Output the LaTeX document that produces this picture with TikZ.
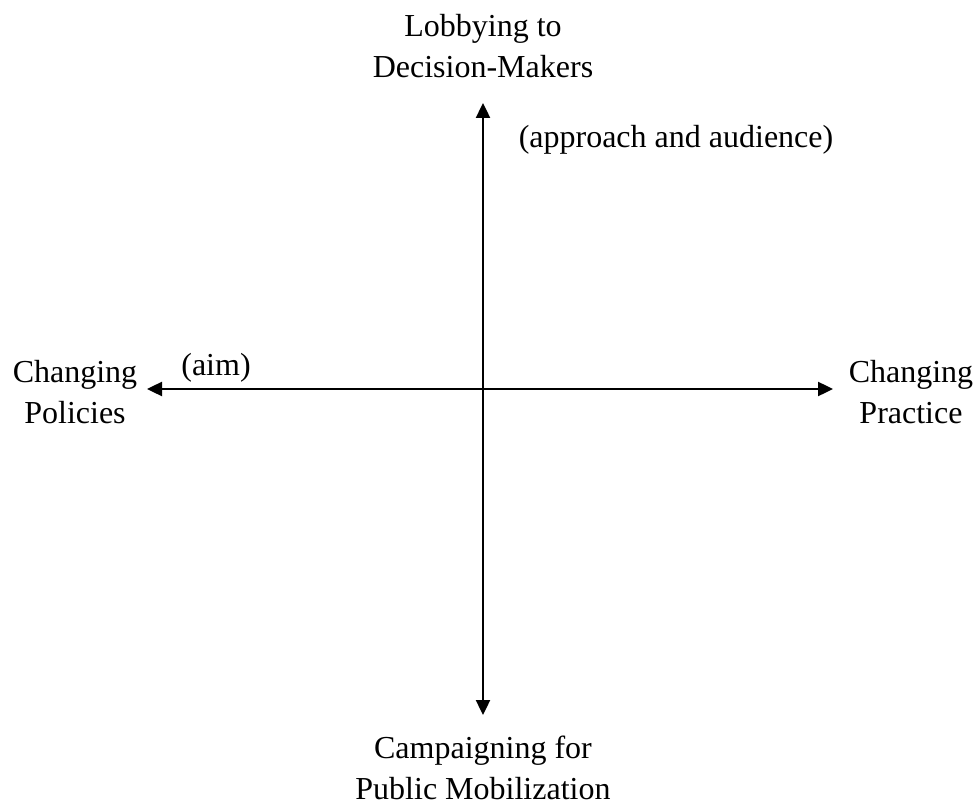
\documentclass[tikz,border=0pt]{standalone}
\usepackage{fontspec}
\setmainfont{Liberation Serif}
\usetikzlibrary{arrows.meta}
\begin{document}
\begin{tikzpicture}[x=1pt,y=-1pt,
  lbl/.style={align=center,inner sep=0pt,font=\fontsize{32}{41}\selectfont},
  axis/.style={line width=2.4pt,{Triangle[length=15pt,width=14pt]}-{Triangle[length=15pt,width=14pt]}}]
\useasboundingbox (0,0) rectangle (977,805);
\coordinate (T) at (483,103);
\coordinate (B) at (483,715);
\coordinate (L) at (147,389);
\coordinate (R) at (833,389);
\draw[axis] (T) -- (B);
\draw[axis] (L) -- (R);
\node[lbl] (top) at (483,46) {Lobbying to\\Decision-Makers};
\node[lbl] (bot) at (483,768) {Campaigning for\\Public Mobilization};
\node[lbl] (left) at (75,392) {Changing\\Policies};
\node[lbl] (right) at (911,392) {Changing\\Practice};
\node[lbl] (aim) at (216,368) {(aim)};
\node[lbl] (aud) at (676,140) {(approach and audience)};
\end{tikzpicture}
\end{document}
